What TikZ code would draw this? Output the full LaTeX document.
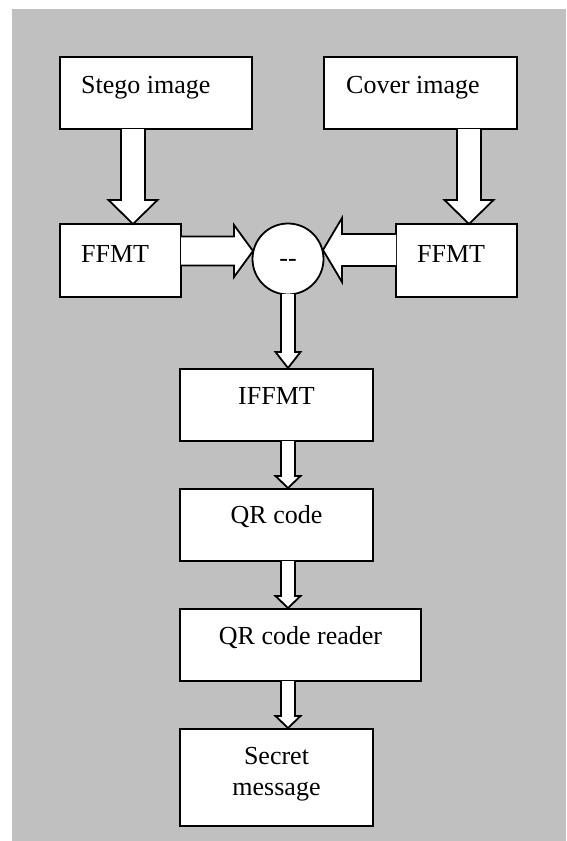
\documentclass[tikz,border=0pt]{standalone}
\usepackage{fontspec}
\setmainfont{Liberation Serif}
\definecolor{bggray}{HTML}{C0C0C0}
\tikzset{
  box/.style={draw=black, line width=1.8pt, fill=white, rectangle, inner sep=0pt, outer sep=0pt, anchor=north west},
  lbl/.style={inner sep=0pt, font=\fontsize{26}{31}\selectfont},
  blockarr/.style={draw=black, line width=1.8pt, fill=white, line join=miter},
}
% vertical block arrow: x, ytop, ytip, shaft half, head half, head length
\newcommand{\vBlockArrow}[6]{%
  \draw[blockarr] ({#1-#4},#2) -- ({#1-#4},{#3-#6}) -- ({#1-#5},{#3-#6}) -- (#1,#3) -- ({#1+#5},{#3-#6}) -- ({#1+#4},{#3-#6}) -- ({#1+#4},#2);}
% horizontal block arrow: y, xstart, xtip, shaft half, head half, head length (signed)
\newcommand{\hBlockArrow}[6]{%
  \draw[blockarr] (#2,{#1-#4}) -- ({#3-#6},{#1-#4}) -- ({#3-#6},{#1-#5}) -- (#3,#1) -- ({#3-#6},{#1+#5}) -- ({#3-#6},{#1+#4}) -- (#2,{#1+#4});}
\begin{document}
\begin{tikzpicture}[x=1pt,y=-1pt]
\useasboundingbox (0,0) rectangle (566,841);
\fill[white] (0,0) rectangle (566,841);
\fill[bggray] (12,9) rectangle (566,841);

% boxes
\node[box, minimum width=192pt, minimum height=72pt] (stego) at (60,57) {};
\node[box, minimum width=193pt, minimum height=72pt] (cover) at (324,57) {};
\node[box, minimum width=121pt, minimum height=73pt] (ffmtL) at (60,224) {};
\node[box, minimum width=121pt, minimum height=73pt] (ffmtR) at (396,224) {};
\node[box, minimum width=193pt, minimum height=72pt] (iffmt) at (180,369) {};
\node[box, minimum width=193pt, minimum height=72pt] (qr) at (180,489) {};
\node[box, minimum width=241pt, minimum height=72pt] (reader) at (180,609) {};
\node[box, minimum width=193pt, minimum height=97pt] (secret) at (180,729) {};
\node[draw=black, line width=1.8pt, fill=white, circle, minimum size=71pt, inner sep=0pt] (minus) at (288,259) {};

% arrows
\vBlockArrow{133}{129}{224}{12}{24.5}{24}
\vBlockArrow{469}{129}{224}{12}{24.5}{24}
\hBlockArrow{251}{181}{253}{14.5}{26}{19}
\hBlockArrow{250}{396}{323}{16}{32}{-19}
\vBlockArrow{288}{294}{368}{7}{12.5}{16}
\vBlockArrow{288}{441}{488}{7}{12.5}{12}
\vBlockArrow{288}{561}{608}{7}{12.5}{12}
\vBlockArrow{288}{681}{728}{7}{12.5}{12}

% texts
\node[lbl, anchor=base west] (tstego) at (81,93) {Stego image};
\node[lbl, anchor=base west] (tcover) at (346,93) {Cover image};
\node[lbl, anchor=base west] (tffmtL) at (81,262) {FFMT};
\node[lbl, anchor=base west] (tffmtR) at (417,262) {FFMT};
\node[lbl, anchor=base] (tminus) at (288,266) {-{}-};
\node[lbl, anchor=base] (tiffmt) at (276.5,404) {IFFMT};
\node[lbl, anchor=base] (tqr) at (276.5,523) {QR code};
\node[lbl, anchor=base] (treader) at (300.5,644) {QR code reader};
\node[lbl, anchor=base] (tsecret1) at (276.5,764) {Secret};
\node[lbl, anchor=base] (tsecret2) at (276.5,795) {message};
\end{tikzpicture}
\end{document}
